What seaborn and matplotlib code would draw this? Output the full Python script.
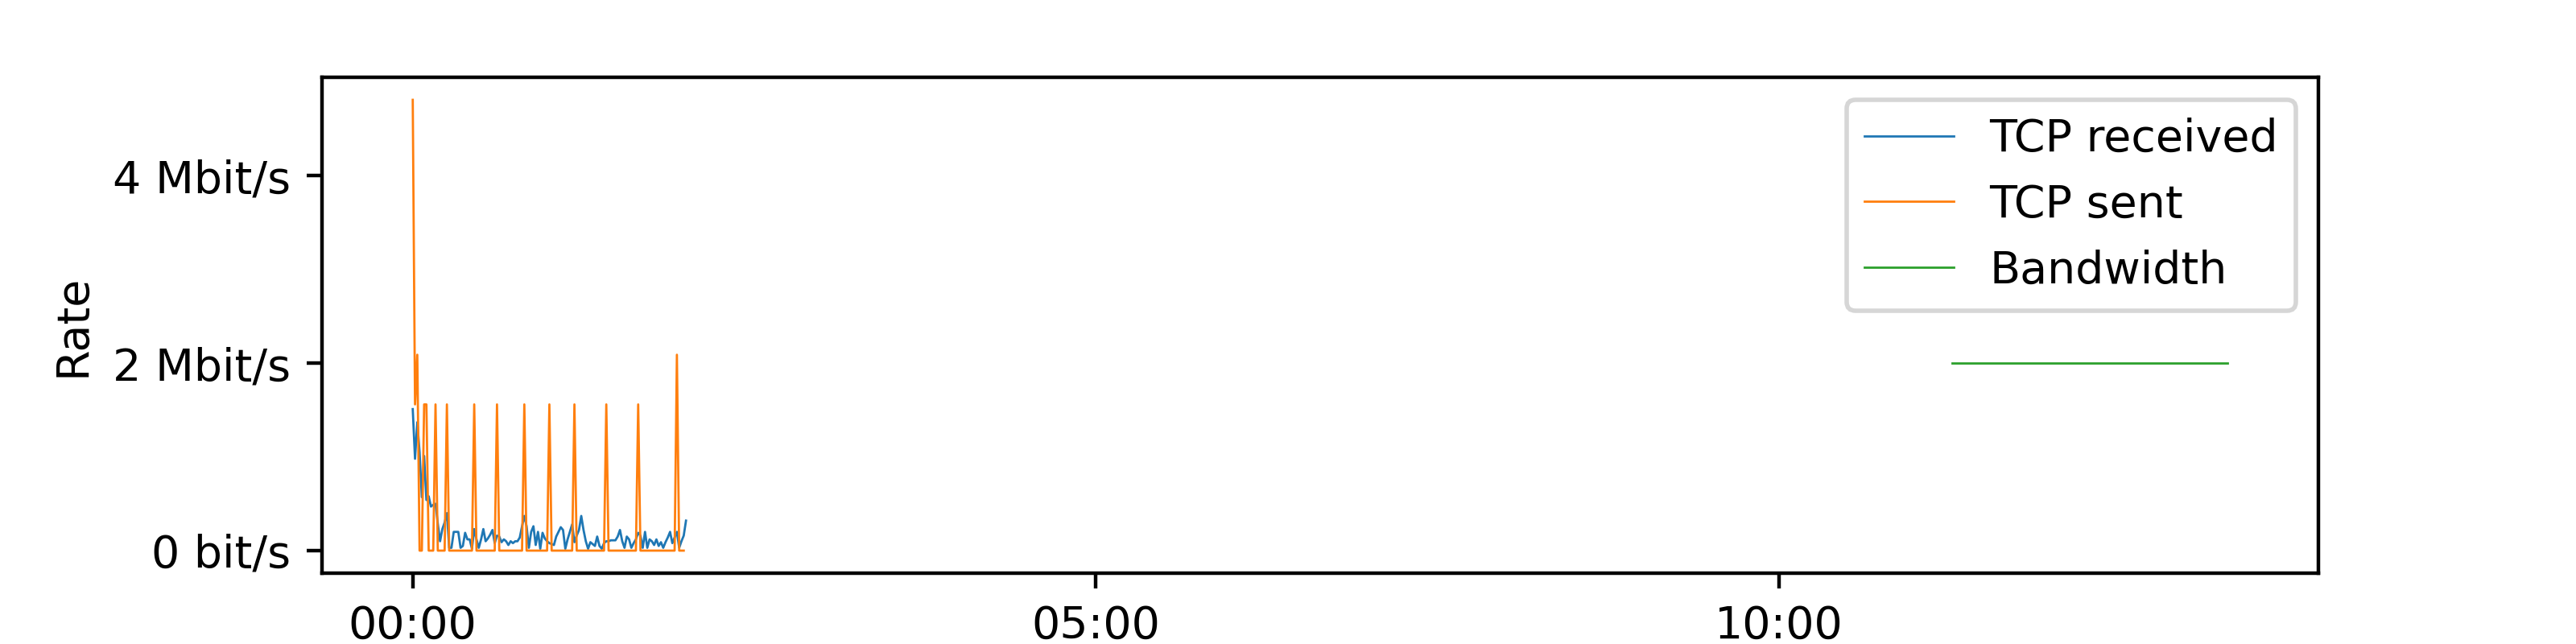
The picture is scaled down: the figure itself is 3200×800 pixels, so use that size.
import matplotlib
matplotlib.use('Agg')
import matplotlib.pyplot as plt
from matplotlib.ticker import EngFormatter, MultipleLocator, FuncFormatter
import seaborn as sns
import numpy as np

# rates in Mbit/s, sampled once per second
recv_mbit = [1.51, 0.98, 1.37, 1.05, 0.57, 1.01, 0.54, 0.58, 0.47, 0.49,
             0.50, 0.29, 0.10, 0.23, 0.30, 0.40, 0.03, 0.03, 0.20, 0.20,
             0.20, 0.03, 0.05, 0.19, 0.12, 0.12, 0.02, 0.23, 0.12, 0.03,
             0.12, 0.23, 0.10, 0.13, 0.17, 0.22, 0.08, 0.16, 0.15, 0.09,
             0.12, 0.10, 0.06, 0.10, 0.08, 0.10, 0.10, 0.14, 0.26, 0.37,
             0.26, 0.03, 0.20, 0.26, 0.06, 0.20, 0.02, 0.19, 0.13, 0.10,
             0.08, 0.07, 0.06, 0.15, 0.20, 0.25, 0.22, 0.02, 0.12, 0.20,
             0.28, 0.09, 0.16, 0.22, 0.37, 0.22, 0.10, 0.02, 0.09, 0.07,
             0.05, 0.15, 0.05, 0.02, 0.08, 0.10, 0.10, 0.11, 0.11, 0.11,
             0.15, 0.22, 0.10, 0.03, 0.15, 0.12, 0.03, 0.08, 0.12, 0.19,
             0.16, 0.03, 0.20, 0.03, 0.12, 0.10, 0.06, 0.12, 0.05, 0.09,
             0.03, 0.09, 0.14, 0.20, 0.08, 0.14, 0.20, 0.03, 0.10, 0.16,
             0.32]
sent_mbit = [4.81, 1.56, 2.09, 0, 0, 1.56, 1.56, 0, 0, 0,
             1.56, 0, 0, 0, 0, 1.56, 0, 0, 0, 0,
             0, 0, 0, 0, 0, 0, 0, 1.56, 0, 0,
             0, 0, 0, 0, 0, 0, 0, 1.56, 0, 0,
             0, 0, 0, 0, 0, 0, 0, 0, 0, 1.56,
             0, 0, 0, 0, 0, 0, 0, 0, 0, 0,
             1.56, 0, 0, 0, 0, 0, 0, 0, 0, 0,
             0, 1.56, 0, 0, 0, 0, 0, 0, 0, 0,
             0, 0, 0, 0, 0, 1.56, 0, 0, 0, 0,
             0, 0, 0, 0, 0, 0, 0, 0, 0, 1.56,
             0, 0, 0, 0, 0, 0, 0, 0, 0, 0,
             0, 0, 0, 0, 0, 0, 2.09, 0, 0, 0]
bw_time = [676, 797]
bw_mbit = [2.0, 2.0]

recv = np.array(recv_mbit) * 1e6
sent = np.array(sent_mbit) * 1e6
bw = np.array(bw_mbit) * 1e6
t_recv = np.arange(len(recv))
t_sent = np.arange(len(sent))

fig, ax = plt.subplots(figsize=(8, 2), dpi=400)
sns.lineplot(x=t_recv, y=recv, ax=ax, color='C0', lw=0.5, label='TCP received', estimator=None)
sns.lineplot(x=t_sent, y=sent, ax=ax, color='C1', lw=0.5, label='TCP sent', estimator=None)
sns.lineplot(x=bw_time, y=bw, ax=ax, color='C2', lw=0.5, label='Bandwidth', estimator=None)

ax.xaxis.set_major_locator(MultipleLocator(300))
ax.xaxis.set_major_formatter(FuncFormatter(lambda s, pos: f"{int(s // 60):02d}:{int(s % 60):02d}"))
ax.yaxis.set_major_locator(MultipleLocator(2e6))
ax.yaxis.set_major_formatter(EngFormatter(unit='bit/s'))
ax.set_ylabel('Rate')
ax.set_xlabel('')
ax.legend(loc='upper right')

fig.savefig('out.png')
